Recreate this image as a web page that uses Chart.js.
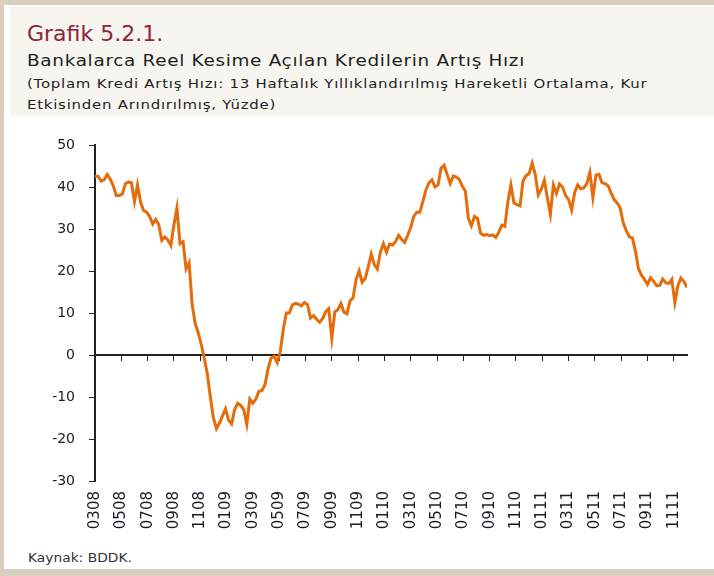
<!DOCTYPE html>
<html lang="tr">
<head>
<meta charset="utf-8">
<script src="https://cdn.jsdelivr.net/npm/chart.js"></script>
<style>
  body { margin: 0; width: 714px; height: 576px; background: #fff; overflow: hidden; position: relative; font-family: "DejaVu Sans", sans-serif; }
  .frame { position: absolute; background: #d9cfbe; }
  .header { position: absolute; left: 10px; top: 7px; width: 704px; height: 109px; background: #f7f5ef; }
  .txt { position: absolute; left: 27px; line-height: 1; white-space: nowrap; color: #1e1e1e; transform-origin: 0 0; }
  #title { top: 23px; font-size: 22px; color: #8e2539; }
  #sub { top: 53px; font-size: 16px; letter-spacing: 0.6px; transform: scaleX(1.15); }
  #note1 { top: 77px; font-size: 13px; letter-spacing: 0.65px; transform: scaleX(1.15); }
  #note2 { top: 98px; font-size: 13px; letter-spacing: 0.65px; transform: scaleX(1.15); }
  #source { top: 552px; left: 28px; font-size: 12px; color: #333; transform: scaleX(1.15); }
  .chart-box { position: absolute; left: 0; top: 120px; width: 714px; height: 430px; }
</style>
</head>
<body>
<div class="frame" style="left:0;top:0;width:714px;height:5px"></div>
<div class="frame" style="left:0;top:0;width:4px;height:576px"></div>
<div class="frame" style="left:0;top:569px;width:714px;height:7px"></div>
<div class="header"></div>
<div class="txt" id="title">Grafik 5.2.1.</div>
<div class="txt" id="sub">Bankalarca Reel Kesime Açılan Kredilerin Artış Hızı</div>
<div class="txt" id="note1">(Toplam Kredi Artış Hızı: 13 Haftalık Yıllıklandırılmış Hareketli Ortalama, Kur</div>
<div class="txt" id="note2">Etkisinden Arındırılmış, Yüzde)</div>
<div class="chart-box"><canvas id="myChart" width="714" height="430"></canvas></div>
<div class="txt" id="source">Kaynak: BDDK.</div>
<script>
// weekly values, March 2008 - Dec 2011
const growth = [
  42.5, 42.6, 41.4, 41.7, 43.0, 41.9, 40.3, 38, 38, 38.3,
  40.8, 41.2, 41, 36.5, 40.5, 36.4, 34.4, 34, 33, 31.2,
  32.3, 31, 27.3, 28.1, 27.4, 26.1, 31, 35, 26.5, 27,
  20.5, 22, 12, 7.5, 5.3, 2.5, -0.8, -4.5, -10, -15,
  -17.5, -16.2, -14.5, -12.8, -15.5, -16.4, -13, -11.5, -12, -13,
  -16.5, -10.5, -11.5, -10.5, -8.6, -8.5, -7, -3.3, -0.7, -0.3,
  -1.8, 0.7, 6, 10, 10, 11.9, 12.3, 12.1, 11.7, 12.5,
  12, 8.8, 9.4, 8.5, 7.8, 8.7, 10.3, 11, 4, 10.3,
  10.8, 12.3, 10.2, 9.8, 12.9, 13.6, 18, 20, 17.3, 18.2,
  21, 24, 21.5, 20.5, 24.5, 26.5, 24.5, 26.4, 26.2, 27,
  28.5, 27.5, 26.8, 28.5, 30.4, 33, 34, 34, 36.5, 39.3,
  41, 41.7, 40, 40.5, 44.5, 45.2, 43, 40.8, 42.6, 42.4,
  41.8, 40.2, 39, 32.5, 30.8, 33, 32.5, 29, 28.5, 28.7,
  28.4, 28.6, 28, 29.2, 30.9, 30.6, 36.5, 40.5, 36.2, 35.8,
  35.5, 41.5, 42.7, 43.2, 45.7, 43, 38.1, 39.4, 41.6, 37.5,
  33.5, 40.5, 38.5, 40.7, 40, 38, 37, 34.5, 38.7, 40.5,
  39.6, 39.8, 40.8, 43.5, 37.5, 42.8, 43, 41, 40.8, 40.3,
  38.6, 37, 36.2, 35, 31.4, 29.6, 28.1, 27.9, 24.8, 20.6,
  19, 18, 16.8, 18.4, 17.6, 16.5, 16.6, 18.1, 17.2, 17,
  18, 12.5, 16.5, 18.3, 17.5, 16.1
]
// tick every two months
const tickLabels = [
  "0308", "0508", "0708", "0908", "1108",
  "0109", "0309", "0509", "0709", "0909", "1109",
  "0110", "0310", "0510", "0710", "0910", "1110",
  "0111", "0311", "0511", "0711", "0911", "1111",
]
const weeksPerTick = 52 / 6
const yTicks = { min: -30, max: 50, step: 10 }

const axisColor = "#222"
const setTicks = (scale) => {
  scale.ticks = tickLabels.map((_, k) => ({ value: k * weeksPerTick }))
}

new Chart(document.getElementById("myChart"), {
  type: "line",
  data: {
    datasets: [
      {
        data: growth.map((v, i) => ({ x: i, y: v })),
        borderColor: "#e46c0a",
        borderWidth: 3,
        pointRadius: 0,
        tension: 0,
      },
    ],
  },
  options: {
    responsive: false,
    animation: false,
    layout: { padding: { top: 25, right: 27, bottom: 0, left: 0 } },
    plugins: {
      legend: { display: false },
      tooltip: { enabled: false },
    },
    scales: {
      x: {
        type: "linear",
        min: 0,
        max: growth.length - 1,
        position: "bottom",
        afterBuildTicks: setTicks,
        afterFit: (s) => { s.height = 69 },
        border: { display: false },
        grid: { display: false, drawTicks: false },
        ticks: {
          autoSkip: false,
          minRotation: 90,
          maxRotation: 90,
          padding: 10,
          color: "#1a1a2a",
          font: { family: "DejaVu Sans", size: 15 },
          callback: (v, i) => tickLabels[i],
        },
      },
      x2: {
        type: "linear",
        axis: "x",
        min: 0,
        max: growth.length - 1,
        position: { y: 0 },
        afterBuildTicks: setTicks,
        border: { display: true, color: axisColor, width: 2 },
        grid: { drawOnChartArea: false, drawTicks: true, tickLength: 5, color: axisColor },
        ticks: { display: false },
      },
      y: {
        min: yTicks.min,
        max: yTicks.max,
        afterFit: (s) => { s.width = 95 },
        border: { display: true, color: axisColor, width: 2 },
        grid: { drawOnChartArea: false, drawTicks: true, tickLength: 6, color: axisColor },
        ticks: {
          stepSize: yTicks.step,
          padding: 14,
          color: "#1a1a2a",
          font: { family: "DejaVu Sans", size: 14 },
        },
      },
    },
  },
})
</script>
</body>
</html>
